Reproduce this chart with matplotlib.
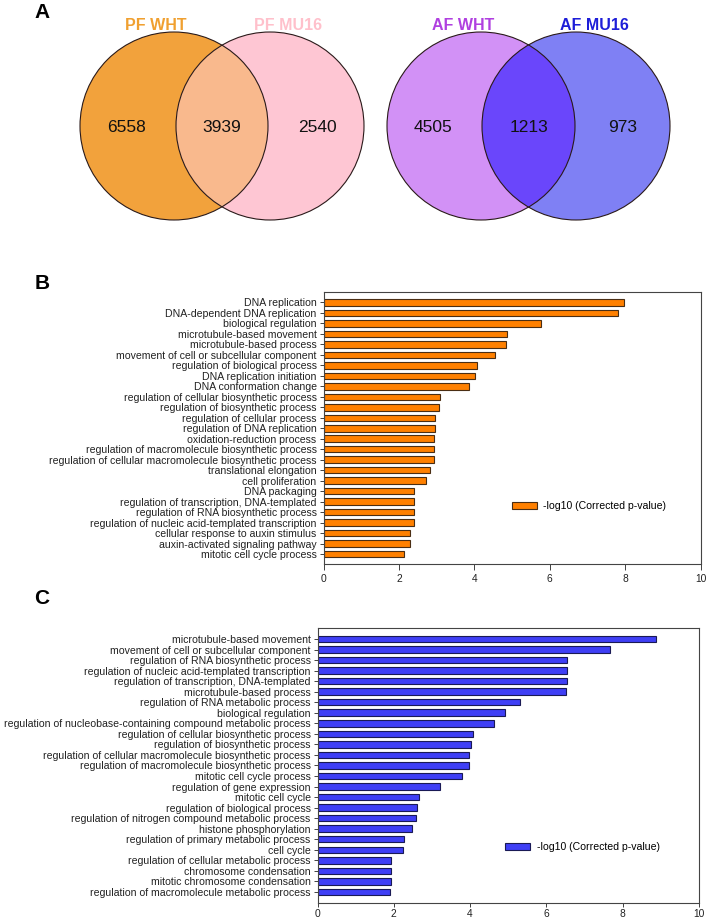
import matplotlib
matplotlib.use("Agg")
import matplotlib.pyplot as plt
from matplotlib.patches import Circle
from matplotlib import font_manager as fm

plt.rcParams['font.family'] = ['Liberation Sans', 'DejaVu Sans']

W, H = 707, 918

# ---------------- data ----------------
venn_pf_labels = ["PF WHT", "PF MU16"]
venn_pf_counts = [6558, 3939, 2540]   # only A, A&B, only B
venn_af_labels = ["AF WHT", "AF MU16"]
venn_af_counts = [4505, 1213, 973]

b_terms = [
    "DNA replication", "DNA-dependent DNA replication", "biological regulation",
    "microtubule-based movement", "microtubule-based process",
    "movement of cell or subcellular component", "regulation of biological process",
    "DNA replication initiation", "DNA conformation change",
    "regulation of cellular biosynthetic process", "regulation of biosynthetic process",
    "regulation of cellular process", "regulation of DNA replication",
    "oxidation-reduction process", "regulation of macromolecule biosynthetic process",
    "regulation of cellular macromolecule biosynthetic process",
    "translational elongation", "cell proliferation", "DNA packaging",
    "regulation of transcription, DNA-templated", "regulation of RNA biosynthetic process",
    "regulation of nucleic acid-templated transcription",
    "cellular response to auxin stimulus", "auxin-activated signaling pathway",
    "mitotic cell cycle process",
]
b_values = [7.98, 7.82, 5.76, 4.88, 4.84, 4.54, 4.08, 4.01, 3.87, 3.10, 3.07, 2.97,
            2.95, 2.94, 2.93, 2.93, 2.82, 2.72, 2.39, 2.39, 2.39, 2.39, 2.30, 2.30, 2.13]

c_terms = [
    "microtubule-based movement", "movement of cell or subcellular component",
    "regulation of RNA biosynthetic process",
    "regulation of nucleic acid-templated transcription",
    "regulation of transcription, DNA-templated", "microtubule-based process",
    "regulation of RNA metabolic process", "biological regulation",
    "regulation of nucleobase-containing compound metabolic process",
    "regulation of cellular biosynthetic process", "regulation of biosynthetic process",
    "regulation of cellular macromolecule biosynthetic process",
    "regulation of macromolecule biosynthetic process", "mitotic cell cycle process",
    "regulation of gene expression", "mitotic cell cycle",
    "regulation of biological process", "regulation of nitrogen compound metabolic process",
    "histone phosphorylation", "regulation of primary metabolic process", "cell cycle",
    "regulation of cellular metabolic process", "chromosome condensation",
    "mitotic chromosome condensation", "regulation of macromolecule metabolic process",
]
c_values = [8.88, 7.68, 6.53, 6.53, 6.53, 6.51, 5.31, 4.92, 4.62, 4.07, 4.02, 3.96,
            3.96, 3.80, 3.22, 2.65, 2.61, 2.58, 2.47, 2.27, 2.24, 1.93, 1.92, 1.92, 1.90]

x_ticks = [0, 2, 4, 6, 8, 10]
legend_label = "-log10 (Corrected p-value)"

# ---------------- figure ----------------
fig = plt.figure(figsize=(W / 100, H / 100), dpi=100)


def px_axes(left, top, right, bottom):
    return fig.add_axes([left / W, 1 - bottom / H, (right - left) / W, (bottom - top) / H])


def pick_family(cands):
    names = {f.name for f in fm.fontManager.ttflist}
    for c in cands:
        if c in names:
            return c
    return 'DejaVu Sans'


narrow = pick_family(['Liberation Sans Narrow', 'Liberation Sans'])

# panel letters
for letter, (x, y) in zip("ABC", [(42, 13), (42, 284), (42, 599)]):
    fig.text(x / W, 1 - y / H, letter, fontsize=15, fontweight='bold',
             family=[narrow, 'DejaVu Sans'], ha='center', va='center')

# ---------------- panel A: Venn ----------------
axv = px_axes(0, 0, W, 240)
axv.set_xlim(0, W)
axv.set_ylim(240, 0)
axv.axis('off')


def venn2(ax, cx1, cx2, cy, r, col1, col2, colo, counts, labels, lcols, numx):
    c1 = Circle((cx1, cy), r, facecolor=col1, edgecolor='none', zorder=1)
    c2 = Circle((cx2, cy), r, facecolor=col2, edgecolor='none', zorder=1)
    ax.add_patch(c1)
    ax.add_patch(c2)
    clip = Circle((cx1, cy), r, transform=ax.transData)
    ov = Circle((cx2, cy), r, facecolor=colo, edgecolor='none', zorder=2)
    ax.add_patch(ov)
    ov.set_clip_path(clip)
    for cx in (cx1, cx2):
        ax.add_patch(Circle((cx, cy), r, facecolor='none', edgecolor='#2a1a1a',
                            linewidth=0.8, zorder=3))
    for x, n in zip(numx, counts):
        ax.text(x, cy + 2, str(n), ha='center', va='center', fontsize=12.5,
                color='#111111', zorder=4)
    for x, lab, lc in zip([cx1 - 18, cx2 + 18], labels, lcols):
        ax.text(x, 25, lab, ha='center', va='center', fontsize=11.5,
                fontweight='bold', color=lc, zorder=4)


venn2(axv, 174, 270, 126, 94, '#F2A23C', '#FEC6D3', '#F9B98D',
      venn_pf_counts, venn_pf_labels, ['#F0A030', '#FFC0CB'], [127, 222, 317])
venn2(axv, 481, 576, 126, 94, '#D291F6', '#7F80F4', '#6A46FB',
      venn_af_counts, venn_af_labels, ['#B040E0', '#1E1ED8'], [433, 529, 623])


# ---------------- bar panels ----------------
def bar_panel(ax, terms, values, fc, ec, ylim, leg_anchor, xpad, xlen):
    y = list(range(len(terms)))
    bars = ax.barh(y, values, height=0.62, color=fc, edgecolor=ec, linewidth=0.8,
                   label=legend_label, zorder=2)
    ax.set_yticks(y)
    ax.set_yticklabels(terms, fontsize=7.6)
    ax.set_ylim(*ylim)
    ax.set_xlim(0, 10)
    ax.set_xticks(x_ticks)
    ax.set_xticklabels([str(t) for t in x_ticks], fontsize=7.4)
    ax.tick_params(axis='y', length=3, width=0.6, pad=2, colors='#222222')
    ax.tick_params(axis='x', length=xlen, width=0.6, pad=xpad, colors='#222222')
    for s in ax.spines.values():
        s.set_color('#444444')
        s.set_linewidth(0.8)
    leg = ax.legend(handles=[bars], loc='center left', bbox_to_anchor=leg_anchor,
                    frameon=False, fontsize=7.6, handlelength=2.4, handleheight=0.6,
                    handletextpad=0.6, borderpad=0, borderaxespad=0)
    return leg


axb = px_axes(323.5, 292, 700.5, 564)
bar_panel(axb, b_terms, b_values, '#FF8000', '#4a2e14', (24.95, -1.0), (0.499, 0.213),
          3, 4)

axc = px_axes(317.5, 628, 699, 903)
bar_panel(axc, c_terms, c_values, '#3F3FF5', '#1a1a55', (25.05, -1.04), (0.4915, 0.203),
          1.5, 3)

fig.savefig('out.png', dpi=100)
